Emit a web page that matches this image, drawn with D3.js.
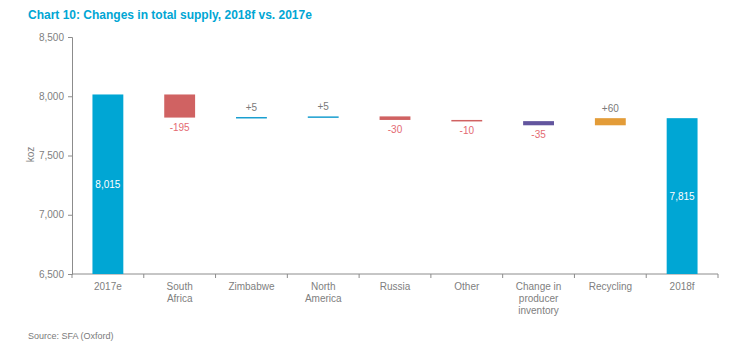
<!DOCTYPE html>
<html>
<head>
<meta charset="utf-8">
<script src="https://cdn.jsdelivr.net/npm/d3@7"></script>
<style>
  body { margin: 0; background: #fff; }
  svg { font-family: "Liberation Sans", Arial, sans-serif; }
  .axis path, .axis line { stroke: #8c8c8c; }
  .axis text { fill: #808080; font-size: 10px; }
</style>
</head>
<body>
<svg id="chart"></svg>
<script>
// Chart values
const categories = ['2017e', 'South Africa', 'Zimbabwe', 'North America', 'Russia', 'Other', 'Change in producer inventory', 'Recycling', '2018f'];
const categoryLines = [['2017e'], ['South', 'Africa'], ['Zimbabwe'], ['North', 'America'], ['Russia'], ['Other'], ['Change in', 'producer', 'inventory'], ['Recycling'], ['2018f']];
const values = [8015, -195, 5, 5, -30, -10, -35, 60, 7815];
const kinds = ['total', 'change', 'change', 'change', 'change', 'change', 'change', 'change', 'total'];
const barColors = ['#00a6d4', '#d06262', '#1a9fd0', '#1a9fd0', '#d06262', '#d06262', '#62559e', '#e39c38', '#00a6d4'];
const yTicks = [6500, 7000, 7500, 8000, 8500];

const width = 739, height = 351;
const margin = { top: 37, right: 21, bottom: 77, left: 72 };
const innerW = width - margin.left - margin.right;
const innerH = height - margin.top - margin.bottom;

const svg = d3.select('#chart').attr('width', width).attr('height', height);

svg.append('text')
  .attr('x', 28).attr('y', 18.5)
  .attr('fill', '#00a6d4')
  .style('font-size', '12px').style('font-weight', 'bold')
  .text('Chart 10: Changes in total supply, 2018f vs. 2017e');

const chart = svg.append('g').attr('transform', `translate(${margin.left},${margin.top})`);

const xScale = d3.scaleBand().domain(categories).range([0, innerW]).paddingInner(0.57).paddingOuter(0.285);
const yScale = d3.scaleLinear().domain([6500, 8500]).range([innerH, 0]);

// waterfall start/end
let running = 0;
const bars = categories.map((c, i) => {
  let start, end;
  if (kinds[i] === 'total') { start = 6500; end = values[i]; running = values[i]; }
  else { start = running; end = running + values[i]; running = end; }
  return { cat: c, value: values[i], kind: kinds[i], start, end, color: barColors[i] };
});

// y axis
const yAxis = d3.axisLeft(yScale).tickValues(yTicks).tickSize(4).tickSizeOuter(4).tickPadding(4).tickFormat(d3.format(','));
chart.append('g').attr('class', 'axis').call(yAxis);

// x axis with ticks between bands
const xAxisG = chart.append('g').attr('class', 'axis').attr('transform', `translate(0,${innerH})`);
xAxisG.append('line').attr('x1', 0).attr('x2', innerW).attr('y1', 0).attr('y2', 0);
const bounds = d3.range(categories.length + 1).map(i => i * innerW / categories.length);
xAxisG.selectAll('.xt').data(bounds).join('line')
  .attr('x1', d => d).attr('x2', d => d).attr('y1', 0).attr('y2', 4);
xAxisG.selectAll('.xl').data(categories).join('text')
  .attr('text-anchor', 'middle')
  .attr('transform', d => `translate(${xScale(d) + xScale.bandwidth() / 2},16)`)
  .each(function(d, i) {
    d3.select(this).selectAll('tspan').data(categoryLines[i]).join('tspan')
      .attr('x', 0).attr('dy', (t, j) => j === 0 ? 0 : 12).text(t => t);
  });

// y axis title
chart.append('text')
  .attr('transform', `translate(${-38},${innerH / 2 - 1}) rotate(-90)`)
  .attr('text-anchor', 'middle')
  .attr('fill', '#808080')
  .style('font-size', '10px')
  .text('koz');

// bars
chart.selectAll('.bar').data(bars).join('rect')
  .attr('x', d => xScale(d.cat))
  .attr('width', xScale.bandwidth())
  .attr('y', d => Math.min(yScale(d.start), yScale(d.end)))
  .attr('height', d => Math.max(1.5, Math.abs(yScale(d.start) - yScale(d.end))))
  .attr('fill', d => d.color);

// labels
const fmt = d3.format(',');
chart.selectAll('.lbl').data(bars).join('text')
  .attr('text-anchor', 'middle')
  .style('font-size', '10px')
  .attr('x', d => xScale(d.cat) + xScale.bandwidth() / 2)
  .attr('y', d => {
    if (d.kind === 'total') return (yScale(d.end) + yScale(d.start)) / 2 + 4;
    const top = Math.min(yScale(d.start), yScale(d.end));
    const bot = Math.max(yScale(d.start), yScale(d.end));
    return d.value < 0 ? bot + 13 : top - 6;
  })
  .attr('fill', d => d.kind === 'total' ? '#ffffff' : (d.value < 0 ? '#e46a72' : '#7a7a7a'))
  .text(d => d.kind === 'total' ? fmt(d.value) : (d.value > 0 ? '+' + d.value : String(d.value)));

svg.append('text')
  .attr('x', 28).attr('y', 339)
  .attr('fill', '#7a7a7a')
  .style('font-size', '9px')
  .text('Source: SFA (Oxford)');
</script>
</body>
</html>
